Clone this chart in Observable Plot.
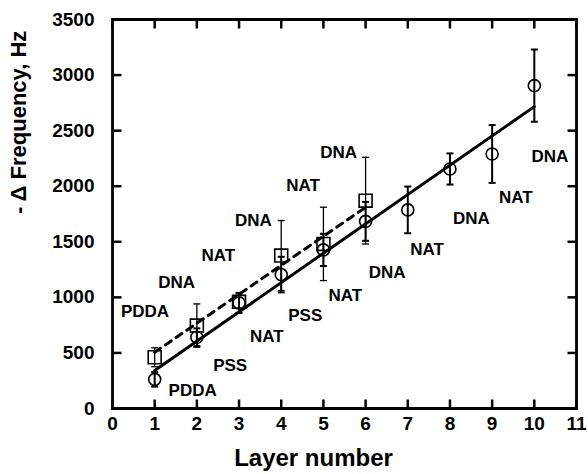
<!DOCTYPE html>
<html><head><meta charset="utf-8">
<script src="https://cdn.jsdelivr.net/npm/d3@7"></script>
<script src="https://cdn.jsdelivr.net/npm/@observablehq/plot@0.6"></script>
<style>body{margin:0;background:#fff}</style>
</head><body><div id="chart"></div>
<script>
const circleLayers = [1, 2, 3, 4, 5, 6, 7, 8, 9, 10];
const circleValues = [262, 641, 950, 1205, 1427, 1684, 1787, 2155, 2290, 2905];
const circleErrors = [65, 80, 90, 160, 145, 175, 210, 140, 260, 325];
const squareLayers = [1, 2, 3, 4, 5, 6];
const squareValues = [461, 746, 960, 1376, 1481, 1870];
const squareErrors = [85, 195, 60, 315, 330, 390];
const fitSolidX = [1, 10];
const fitSolidY = [342, 2716];
const fitDashX = [1, 6];
const fitDashY = [506, 1810];
const labelText = ["PDDA", "PDDA", "DNA", "PSS", "NAT", "NAT", "DNA", "PSS", "NAT", "NAT", "DNA", "DNA", "NAT", "DNA", "NAT", "DNA"];
const labelX = [0.77, 1.9, 1.52, 2.79, 2.51, 3.66, 3.34, 4.57, 4.52, 5.52, 5.36, 6.51, 7.46, 8.51, 9.56, 10.37];
const labelY = [875, 162, 1136, 387, 1376, 648, 1691, 836, 2005, 1016, 2305, 1226, 1427, 1706, 1900, 2266];
const xTicks = [0, 1, 2, 3, 4, 5, 6, 7, 8, 9, 10, 11];
const yTicks = [0, 500, 1000, 1500, 2000, 2500, 3000, 3500];
const xTitle = "Layer number";
const yTitle = "- Δ Frequency, Hz";

const circles = circleLayers.map((x, i) => ({x, y: circleValues[i], e: circleErrors[i]}));
const squares = squareLayers.map((x, i) => ({x, y: squareValues[i], e: squareErrors[i]}));
const fitSolid = fitSolidX.map((x, i) => ({x, y: fitSolidY[i]}));
const fitDash = fitDashX.map((x, i) => ({x, y: fitDashY[i]}));
const labels = labelText.map((t, i) => ({t, x: labelX[i], y: labelY[i]}));

const W = 588, H = 474, ML = 112, MR = 12, MT = 19, MB = 66;
const xMin = xTicks[0], xMax = xTicks[xTicks.length - 1];
const yMin = yTicks[0], yMax = yTicks[yTicks.length - 1];
const TP = 9;
const tyLen = (yMax - yMin) * TP / (H - MT - MB);
const txLen = (xMax - xMin) * TP / (W - ML - MR);
const tickSegs = [
  ...xTicks.map(v => ({x1: v, x2: v, y1: yMin, y2: yMin + tyLen})),
  ...xTicks.map(v => ({x1: v, x2: v, y1: yMax - tyLen, y2: yMax})),
  ...yTicks.map(v => ({x1: xMin, x2: xMin + txLen, y1: v, y2: v})),
  ...yTicks.map(v => ({x1: xMax - txLen, x2: xMax, y1: v, y2: v}))
];
const border = [
  {x1: xMin, y1: yMin, x2: xMax, y2: yMin},
  {x1: xMin, y1: yMax, x2: xMax, y2: yMax},
  {x1: xMin, y1: yMin, x2: xMin, y2: yMax},
  {x1: xMax, y1: yMin, x2: xMax, y2: yMax}
];

const hline = {draw(ctx, size) { const r = Math.sqrt(size / Math.PI); ctx.moveTo(-r, 0); ctx.lineTo(r, 0); }};
const font = "'Liberation Sans', Arial, sans-serif";

const chart = Plot.plot({
  width: W, height: H,
  marginLeft: ML, marginRight: MR, marginTop: MT, marginBottom: MB,
  style: {fontFamily: font, fontWeight: "bold", fontSize: "19px", color: "#000", background: "#fff"},
  x: {domain: [xMin, xMax]},
  y: {domain: [yMin, yMax]},
  marks: [
    Plot.axisX(xTicks, {anchor: "bottom", tickSize: 0, tickPadding: 8, fontSize: 19, tickFormat: d => String(d), label: null}),
    Plot.axisY(yTicks, {anchor: "left", tickSize: 0, tickPadding: 18, fontSize: 19, tickFormat: d => String(d), label: null}),
    Plot.text([xTitle], {text: d => d, frameAnchor: "bottom", dx: -31, dy: 57, fontSize: 24, fontWeight: "bold", fill: "#000"}),
    Plot.text([yTitle], {text: d => d, frameAnchor: "left", dx: -94, rotate: -90, fontSize: 22, fontWeight: "bold", fill: "#000"}),
    Plot.ruleX(squares, {x: "x", y1: d => d.y - d.e, y2: d => d.y + d.e, strokeWidth: 1.3}),
    Plot.dot(squares, {x: "x", y: d => d.y + d.e, symbol: hline, r: 3.5, stroke: "#000", strokeWidth: 1.3}),
    Plot.dot(squares, {x: "x", y: d => d.y - d.e, symbol: hline, r: 3.5, stroke: "#000", strokeWidth: 1.3}),
    Plot.ruleX(circles, {x: "x", y1: d => d.y - d.e, y2: d => d.y + d.e, strokeWidth: 2}),
    Plot.dot(circles, {x: "x", y: d => d.y + d.e, symbol: hline, r: 3.5, stroke: "#000", strokeWidth: 2}),
    Plot.dot(circles, {x: "x", y: d => d.y - d.e, symbol: hline, r: 3.5, stroke: "#000", strokeWidth: 2}),
    Plot.line(fitDash, {x: "x", y: "y", stroke: "#000", strokeWidth: 3, strokeDasharray: "7,6"}),
    Plot.line(fitSolid, {x: "x", y: "y", stroke: "#000", strokeWidth: 3}),
    Plot.dot(circles, {x: "x", y: "y", r: 6, stroke: "#000", strokeWidth: 1.6, fill: "none"}),
    Plot.dot(squares, {x: "x", y: "y", symbol: "square", r: 7.3, stroke: "#000", strokeWidth: 1.6, fill: "none"}),
    Plot.text(labels, {x: "x", y: "y", text: "t", fontSize: 17, fontWeight: "bold", fill: "#000"}),
    Plot.link(tickSegs, {x1: "x1", y1: "y1", x2: "x2", y2: "y2", stroke: "#000", strokeWidth: 2.5}),
    Plot.link(border, {x1: "x1", y1: "y1", x2: "x2", y2: "y2", stroke: "#000", strokeWidth: 2.8, strokeLinecap: "square"})
  ]
});
document.getElementById("chart").appendChild(chart);
</script>
</body></html>
